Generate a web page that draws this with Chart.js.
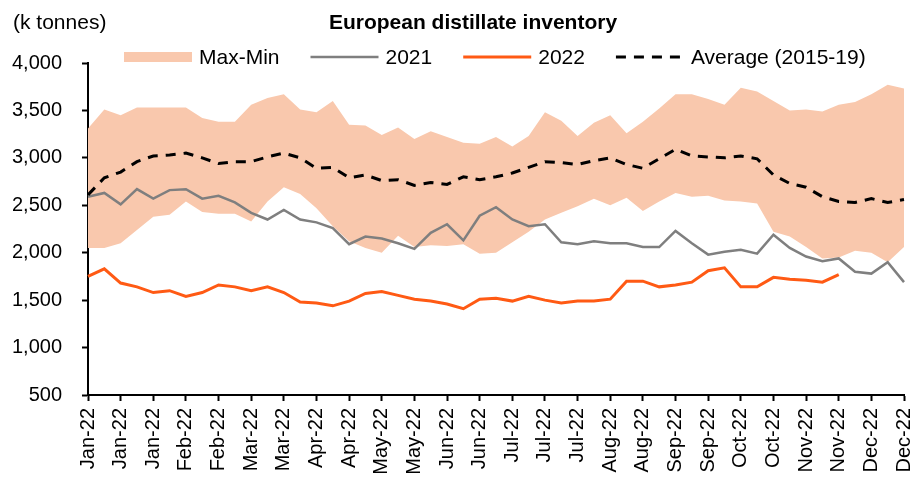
<!DOCTYPE html>
<html>
<head>
<meta charset="utf-8">
<script src="https://cdn.jsdelivr.net/npm/chart.js@4/dist/chart.umd.min.js"></script>
<style>
  html, body { margin: 0; padding: 0; background: #fff; }
  #wrap { width: 920px; height: 477px; position: relative; }
</style>
</head>
<body>
<div id="wrap"><canvas id="inventoryChart"></canvas></div>
<script>
const chartTitle = 'European distillate inventory';
const unitLabel = '(k tonnes)';

// one tick label every second week
const tickLabels = ['Jan-22', 'Jan-22', 'Jan-22', 'Feb-22', 'Feb-22', 'Mar-22', 'Mar-22', 'Apr-22', 'Apr-22',
  'May-22', 'May-22', 'Jun-22', 'Jun-22', 'Jul-22', 'Jul-22', 'Jul-22', 'Aug-22', 'Aug-22', 'Sep-22', 'Sep-22',
  'Oct-22', 'Oct-22', 'Nov-22', 'Nov-22', 'Dec-22', 'Dec-22'];

const rangeMax = [3310, 3510, 3450, 3530, 3530, 3530, 3530, 3420, 3380, 3380, 3560, 3630, 3670, 3510, 3480,
  3600, 3350, 3340, 3240, 3320, 3200, 3280, 3220, 3160, 3150, 3220, 3120, 3230, 3480, 3390, 3230, 3370, 3450,
  3260, 3380, 3520, 3670, 3670, 3620, 3560, 3740, 3700, 3600, 3500, 3510, 3490, 3560, 3590, 3670, 3770, 3730];

const rangeMin = [2050, 2050, 2100, 2240, 2380, 2400, 2540, 2430, 2410, 2410, 2330, 2540, 2690, 2620, 2470,
  2280, 2120, 2050, 2000, 2180, 2060, 2080, 2070, 2090, 1990, 2000, 2110, 2220, 2350, 2420, 2490, 2570, 2500,
  2580, 2440, 2540, 2630, 2590, 2600, 2550, 2540, 2520, 2220, 2170, 2060, 1940, 1950, 2020, 2000, 1900, 2060];

const avg1519 = [2610, 2790, 2850, 2960, 3020, 3030, 3050, 3000, 2940, 2960, 2960, 3010, 3050, 3000, 2890,
  2900, 2790, 2820, 2760, 2770, 2710, 2740, 2720, 2800, 2770, 2800, 2840, 2900, 2960, 2950, 2930, 2970, 3000,
  2930, 2890, 2990, 3090, 3020, 3010, 3000, 3020, 2990, 2820, 2730, 2690, 2590, 2540, 2530, 2570, 2530, 2560];

const y2021 = [2590, 2630, 2510, 2670, 2570, 2660, 2670, 2570, 2600, 2530, 2420, 2350, 2450, 2350, 2320,
  2260, 2090, 2170, 2150, 2100, 2040, 2210, 2300, 2130, 2390, 2480, 2350, 2280, 2300, 2110, 2090, 2120, 2100,
  2100, 2060, 2060, 2230, 2100, 1980, 2010, 2030, 1990, 2190, 2050, 1960, 1910, 1940, 1800, 1780, 1900, 1690];

const y2022 = [1750, 1830, 1680, 1640, 1580, 1600, 1540, 1580, 1660, 1640, 1600, 1640, 1580, 1480, 1470,
  1440, 1490, 1570, 1590, 1550, 1510, 1490, 1460, 1410, 1510, 1520, 1490, 1540, 1500, 1470, 1490, 1490, 1510,
  1700, 1700, 1640, 1660, 1690, 1810, 1840, 1640, 1640, 1740, 1720, 1710, 1690, 1770, null, null, null, null];

const yTicksMin = 500;
const yTicksMax = 4000;
const yStep = 500;

const weekLabels = y2021.map((v, i) => (i % 2 === 0 ? tickLabels[i / 2] : ''));

const FONT = '"Liberation Sans", Arial, sans-serif';
Chart.defaults.font.family = FONT;
Chart.defaults.font.size = 20;
Chart.defaults.color = '#000';

// title, unit label and legend
const headerPlugin = {
  id: 'header',
  afterDraw(chart) {
    const ctx = chart.ctx;
    ctx.save();
    ctx.fillStyle = '#000';
    ctx.textBaseline = 'alphabetic';
    ctx.font = '21px ' + FONT;
    ctx.textAlign = 'left';
    ctx.fillText(unitLabel, 13, 29);
    ctx.font = 'bold 21px ' + FONT;
    ctx.textAlign = 'center';
    ctx.fillText(chartTitle, 473, 29);

    ctx.font = '21px ' + FONT;
    ctx.textAlign = 'left';
    ctx.textBaseline = 'middle';
    const y = 57;
    let x = 124;
    [0, 2, 3, 4].forEach(i => {
      const ds = chart.data.datasets[i];
      if (i === 0) {
        ctx.fillStyle = ds.backgroundColor;
        ctx.fillRect(x, y - 5, 68, 10);
      } else {
        ctx.strokeStyle = ds.borderColor;
        ctx.lineWidth = ds.borderWidth;
        ctx.setLineDash(ds.borderDash || []);
        ctx.beginPath();
        ctx.moveTo(x, y);
        ctx.lineTo(x + 68, y);
        ctx.stroke();
        ctx.setLineDash([]);
      }
      ctx.fillStyle = '#000';
      ctx.fillText(ds.label, x + 75, y + 1);
      x += 75 + ctx.measureText(ds.label).width + 31;
    });
    ctx.restore();
  }
};

const ctx = document.getElementById('inventoryChart').getContext('2d');
new Chart(ctx, {
  type: 'line',
  data: {
    labels: weekLabels,
    datasets: [
      { label: 'Max-Min', data: rangeMax, fill: '+1', backgroundColor: '#F9C8AD',
        borderColor: 'rgba(0,0,0,0)', borderWidth: 0, pointRadius: 0, order: 3 },
      { label: 'min', data: rangeMin, fill: false,
        borderColor: 'rgba(0,0,0,0)', borderWidth: 0, pointRadius: 0, order: 3 },
      { label: '2021', data: y2021, fill: false, borderColor: '#7F7F7F', borderWidth: 2.5,
        pointRadius: 0, order: 2 },
      { label: '2022', data: y2022, fill: false, borderColor: '#FF5A14', borderWidth: 3,
        pointRadius: 0, order: 1 },
      { label: 'Average (2015-19)', data: avg1519, fill: false, borderColor: '#000', borderWidth: 3,
        borderDash: [10, 8], pointRadius: 0, order: 0 }
    ]
  },
  options: {
    responsive: true,
    maintainAspectRatio: false,
    animation: false,
    layout: { padding: { top: 63, left: 0, right: 16, bottom: 0 } },
    plugins: {
      legend: { display: false },
      title: { display: false },
      tooltip: { enabled: false }
    },
    elements: { line: { tension: 0 } },
    scales: {
      x: {
        type: 'category',
        offset: false,
        grid: {
          drawOnChartArea: false,
          drawTicks: true,
          tickLength: 6,
          tickWidth: 2,
          tickColor: c => (c.index % 2 === 0 ? '#000' : 'rgba(0,0,0,0)')
        },
        border: { display: true, color: '#000', width: 2 },
        ticks: { autoSkip: false, maxRotation: 90, minRotation: 90, padding: 7, font: { size: 20 } },
        afterFit: s => { s.height = 82; s.paddingLeft = 0; s.paddingRight = 0; }
      },
      y: {
        min: yTicksMin,
        max: yTicksMax,
        grid: { drawOnChartArea: false, drawTicks: true, tickLength: 6, tickWidth: 2, tickColor: '#000' },
        border: { display: true, color: '#000', width: 2 },
        ticks: {
          stepSize: yStep,
          padding: 20,
          font: { size: 20 },
          callback: v => v.toLocaleString('en-US')
        },
        afterFit: s => { s.width = 88; }
      }
    }
  },
  plugins: [headerPlugin]
});
</script>
</body>
</html>
